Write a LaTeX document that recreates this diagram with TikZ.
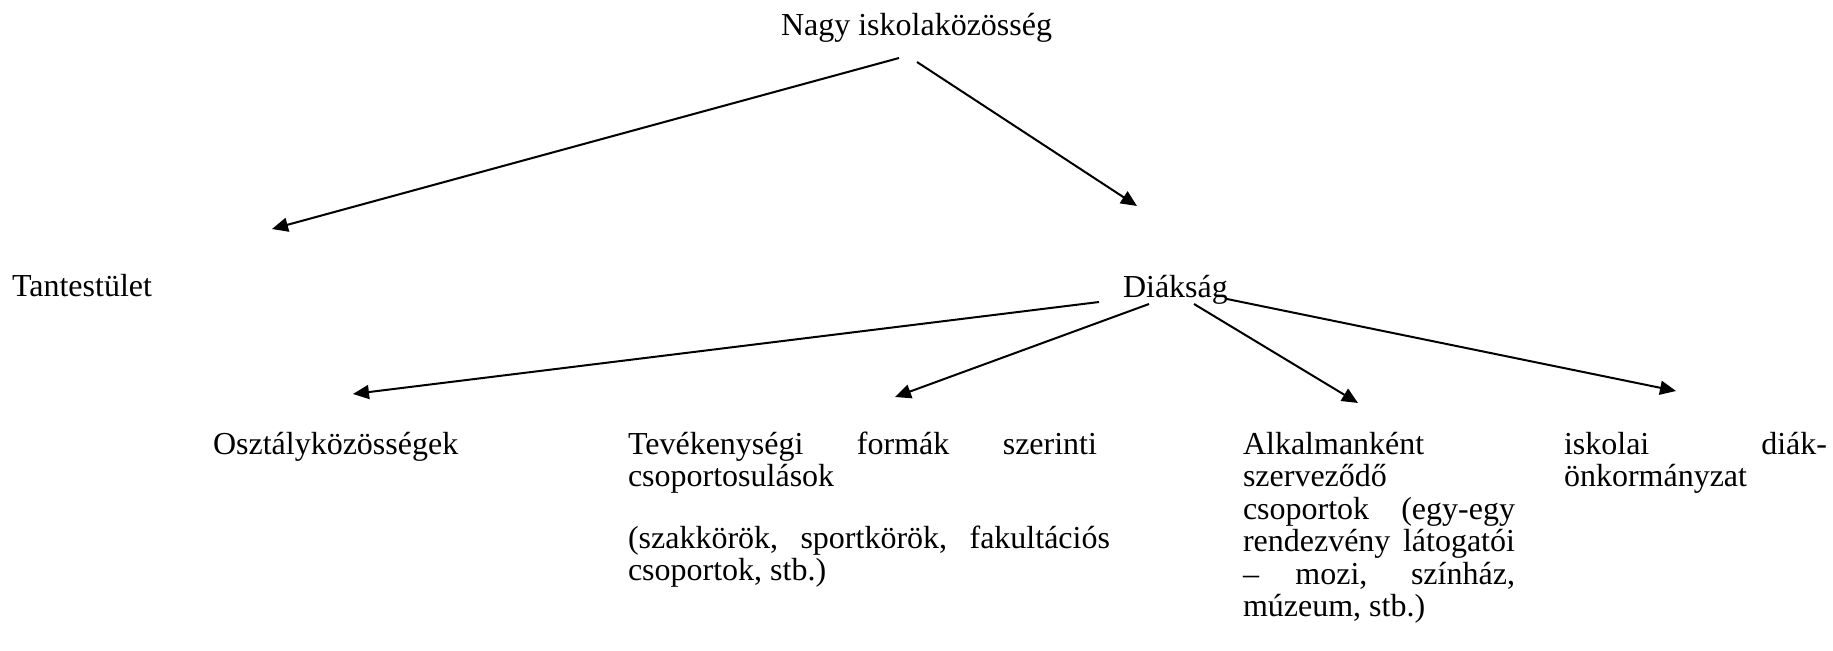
\documentclass[tikz,border=0pt]{standalone}
\usepackage{fontspec}
\setmainfont{Liberation Serif}
\usetikzlibrary{arrows.meta}
\newcommand\jl[2]{\makebox[#1][s]{#2}}
\newcommand\tf{\fontsize{16pt}{16.25pt}\selectfont\lineskiplimit=-30pt\relax}
\begin{document}
\begin{tikzpicture}[x=0.5pt,y=-0.5pt,
  lbl/.style={inner sep=0pt, outer sep=0pt, anchor=base west, font=\tf},
  conn/.style={line width=1pt, -{Triangle[length=8pt,width=7pt]}}]
\useasboundingbox (0,0) rectangle (1833,650);
% nodes
\node[lbl] (nagy) at (781,35) {Nagy iskolaközösség};
\node[lbl] (tant) at (12,296) {Tantestület};
\node[lbl] (diak) at (1123,297) {Diákság};
\node[lbl] (oszt) at (213,454) {Osztályközösségek};
\node[lbl] (tev) at (628,454) {\parbox[t]{241pt}{\tf
  \jl{234.5pt}{Tevékenységi formák szerinti}\\
  csoportosulások\\[14.5pt]
  \jl{241pt}{(szakkörök, sportkörök, fakultációs}\\
  csoportok, stb.)}};
\node[lbl] (alk) at (1243,454) {\parbox[t]{136pt}{\tf
  Alkalmanként\\
  szerveződő\\
  \jl{136pt}{csoportok (egy-egy}\\
  \jl{136pt}{rendezvény látogatói}\\
  \jl{136pt}{– mozi, színház,}\\
  múzeum, stb.)}};
\node[lbl] (isk) at (1564,454) {\parbox[t]{131.5pt}{\tf
  \jl{131.5pt}{iskolai diák-}\\
  önkormányzat}};
% connector end points
\coordinate (nagyL) at (899,58);
\coordinate (nagyR) at (917,62);
\coordinate (tantIn) at (272,229);
\coordinate (diakIn) at (1137,206);
\coordinate (diak1) at (1099,302);
\coordinate (diak2) at (1149,304);
\coordinate (diak3) at (1194,304);
\coordinate (diak4) at (1227,299);
\coordinate (osztIn) at (353,394);
\coordinate (tevIn) at (895,397);
\coordinate (alkIn) at (1358,403);
\coordinate (iskIn) at (1676,391);
% connectors
\draw[conn] (nagyL) -- (tantIn);
\draw[conn] (nagyR) -- (diakIn);
\draw[conn] (diak1) -- (osztIn);
\draw[conn] (diak2) -- (tevIn);
\draw[conn] (diak3) -- (alkIn);
\draw[conn] (diak4) -- (iskIn);
\end{tikzpicture}
\end{document}
